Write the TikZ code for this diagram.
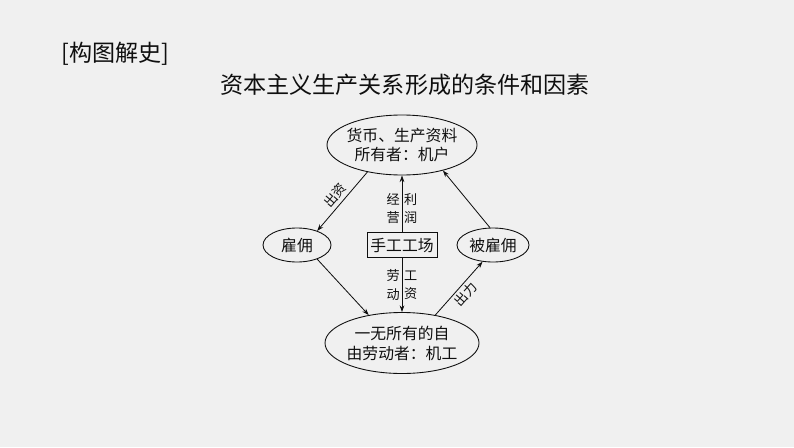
\documentclass[tikz,border=0pt]{standalone}
\usepackage{fontspec}
\setmainfont{Noto Sans CJK SC}
\usetikzlibrary{positioning, shapes.geometric, backgrounds, arrows.meta}
\definecolor{paper}{rgb}{0.94, 0.94, 0.94}
\definecolor{ink}{rgb}{0.06, 0.06, 0.06}

\begin{document}
\begin{tikzpicture}[
  x=0.03cm, y=-0.03cm,
  background rectangle/.style={fill=paper},
  show background rectangle,
  inner frame sep=0mm,
  every node/.style={
    color=ink,
    inner sep=0mm
  },
  heading/.style={
    font=\fontsize{19.7}{22}\selectfont
  },
  oval/.style={
    draw=ink,
    ellipse,
    line width=0.75pt
  },
  boxed/.style={
    draw=ink,
    line width=0.75pt,
    minimum width=2.1cm,
    minimum height=0.75cm,
    font=\fontsize{13.5}{17}\selectfont
  },
  body/.style={
    font=\fontsize{13.5}{17}\selectfont,
    align=center
  },
  tag/.style={
    font=\fontsize{11.2}{15.4}\selectfont,
    align=center,
    inner sep=1.5pt
  },
  flow arrow/.style={
    -{Stealth[length=2mm, width=1.4mm]},
    draw=ink,
    line width=0.7pt
  }
]

\useasboundingbox (0,0) rectangle (794,447);

\node(head)[heading, anchor=west] at (61,54) {[构图解史]};
\node(title)[heading] at (405,85) {资本主义生产关系形成的条件和因素};

\node(owner)[oval, minimum width=4.5cm, minimum height=1.8cm] at (402,145) {};
\node(owner_txt)[body] at (owner) {货币、生产资料\\所有者：机户};

\node(hire)[oval, minimum width=2.04cm, minimum height=1.02cm] at (297,245) {};
\node(hire_txt)[body] at (hire) {雇佣};

\node(works)[boxed] at (402,245) {手工工场};

\node(hired)[oval, minimum width=2.16cm, minimum height=1.02cm] at (493,245) {};
\node(hired_txt)[body] at (hired) {被雇佣};

\node(worker)[oval, minimum width=4.62cm, minimum height=1.83cm] at (402,343) {};
\node(worker_txt)[body] at (worker) {一无所有的自\\由劳动者：机工};

\draw[flow arrow] (owner.218) -- node[tag, sloped, above, inner sep=2.5pt]{出资} (hire.35);
\draw[flow arrow] (hire.325) -- (worker.140);
\draw[flow arrow] (worker.40) -- node[tag, sloped, below, inner sep=2.5pt]{出力} (hired.238);
\draw[flow arrow] (hired.100) -- (owner.328);

\draw[flow arrow] (works) -- node[tag, left, pos=0.42]{经\\营} node[tag, right, pos=0.42]{利\\润} (owner);
\draw[flow arrow] (works) -- node[tag, left]{劳\\动} node[tag, right]{工\\资} (worker);

\end{tikzpicture}
\end{document}
